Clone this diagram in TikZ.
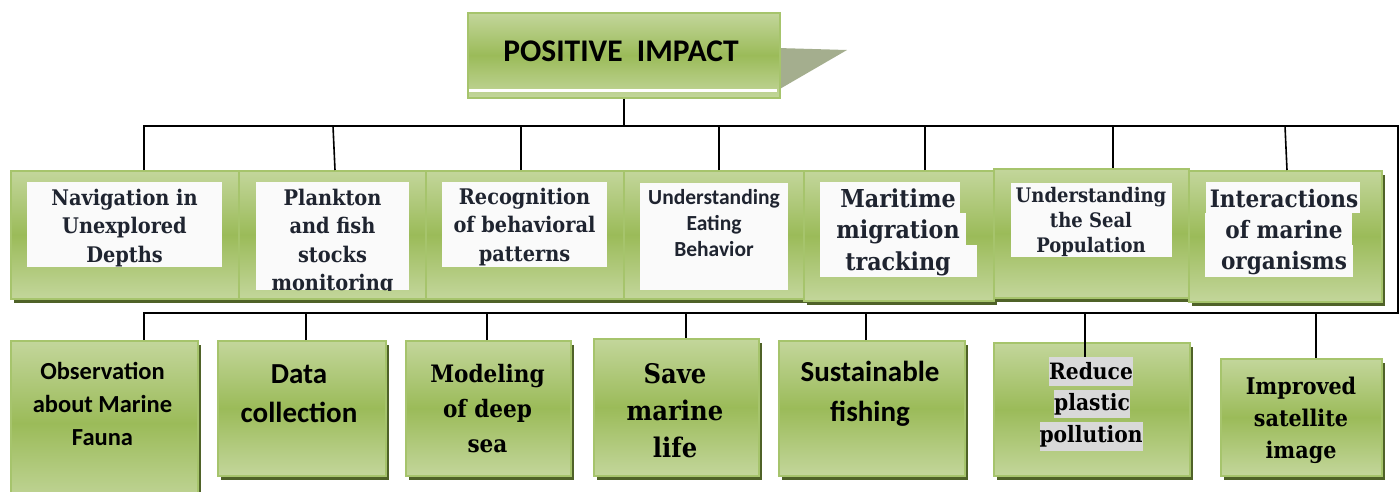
\documentclass[tikz,border=0pt]{standalone}
\usepackage{fontspec}
\setmainfont{Carlito}[BoldFont={Carlito Bold}]
\newfontfamily\cam{DejaVu Serif Condensed}
\usetikzlibrary{shadows}

\definecolor{gLight}{HTML}{C3D69B}
\definecolor{gMid}{HTML}{9BBB59}
\definecolor{gEdge}{HTML}{A6C46C}
\definecolor{gShadow}{HTML}{4F6228}
\definecolor{ink}{HTML}{1F2430}
\definecolor{flag}{HTML}{A4AE8E}
\definecolor{hilite}{HTML}{D9D9D9}
\definecolor{panelc}{HTML}{FAFAFA}

\newcommand\fsz[2]{\fontsize{#1}{#2}\selectfont}

\tikzset{
  plainbox/.style={anchor=north west, inner sep=0pt, draw=gEdge, line width=1.6pt,
    top color=gLight, bottom color=gLight, middle color=gMid},
  greenbox/.style={plainbox,
    drop shadow={shadow xshift=3pt, shadow yshift=-4pt, fill=gShadow, opacity=1}},
  panel/.style={anchor=north west, inner sep=0pt, fill=panelc},
  tx/.style={inner sep=0pt, align=center},
  serifA/.style={tx, text=ink, font=\cam\bfseries\fsz{21.5}{28.5}},
  link/.style={draw=black, line width=1.6pt},
}

\begin{document}
\begin{tikzpicture}[x=1pt,y=-1pt]
\useasboundingbox (0,0) rectangle (1400,491);
\fill[white] (0,0) rectangle (1400,491);

% ---------- title ----------
\fill[flag] (778,48) -- (847,50) -- (778,90) -- cycle;
\node[plainbox, minimum width=312pt, minimum height=85pt] (title) at (467,12) {};
\draw[white, line width=2.5pt] (469,90.5) -- (777,90.5);
\node[tx, font=\bfseries\fsz{31.5}{35}] (titletext) at (621,51) {POSITIVE\ \ IMPACT};

% ---------- middle row ----------
\node[greenbox, minimum width=228pt, minimum height=128pt] (m1) at (10,170) {};
\node[greenbox, minimum width=187pt, minimum height=128pt] (m2) at (238,170) {};
\node[greenbox, minimum width=198pt, minimum height=128pt] (m3) at (425,170) {};
\node[greenbox, minimum width=180pt, minimum height=128pt] (m4) at (623,170) {};
\node[greenbox, minimum width=190pt, minimum height=130pt] (m5) at (803,170) {};
\node[greenbox, minimum width=195pt, minimum height=129pt] (m6) at (993,168) {};
\node[greenbox, minimum width=193pt, minimum height=131pt] (m7) at (1188,170) {};

% white label panels
\node[panel, minimum width=195pt, minimum height=85pt] (w1) at (27,182) {};
\node[panel, minimum width=153pt, minimum height=108pt] (w2) at (256,182) {};
\node[panel, minimum width=165pt, minimum height=85pt] (w3) at (442,182) {};
\node[panel, minimum width=148pt, minimum height=107pt] (w4) at (640,183) {};
\node[panel, minimum width=140pt, minimum height=31pt] (w5a) at (820,182) {};
\node[panel, minimum width=146pt, minimum height=32pt] (w5b) at (820,213) {};
\node[panel, minimum width=157pt, minimum height=32pt] (w5c) at (820,245) {};
\node[panel, minimum width=161pt, minimum height=74pt] (w6) at (1011,183) {};
\node[panel, minimum width=154pt, minimum height=31pt] (w7a) at (1206,182) {};
\node[panel, minimum width=147pt, minimum height=32pt] (w7b) at (1205,213) {};
\node[panel, minimum width=148pt, minimum height=32pt] (w7c) at (1205,245) {};

% labels
\node[serifA] (t1) at (124.5,228) {Navigation in\\Unexplored\\Depths};
\begin{scope}
  \clip (w2.north west) rectangle (w2.south east);
  \node[serifA] (t2) at (332.5,242) {Plankton\\and fish\\stocks\\monitoring};
\end{scope}
\node[serifA] (t3) at (524.5,227) {Recognition\\of behavioral\\patterns};
\node[tx, text=ink, font=\bfseries\fsz{21.5}{26}] (t4) at (714,223) {Understanding\\Eating\\Behavior};
\node[tx, text=ink, font=\cam\bfseries\fsz{24.7}{31.5}] (t5) at (898,232) {Maritime\\migration\\tracking};
\node[tx, text=ink, font=\cam\bfseries\fsz{20}{25}] (t6) at (1091,222) {Understanding\\the Seal\\Population};
\node[tx, text=ink, font=\cam\bfseries\fsz{24}{31}] (t7) at (1284,232) {Interactions\\of marine\\organisms};

% ---------- bottom row ----------
\node[greenbox, minimum width=187pt, minimum height=165pt] (b1) at (10,340) {};
\node[greenbox, minimum width=168pt, minimum height=135pt] (b2) at (217,340) {};
\node[greenbox, minimum width=165pt, minimum height=135pt] (b3) at (405,340) {};
\node[greenbox, minimum width=165pt, minimum height=137pt] (b4) at (593,338) {};
\node[greenbox, minimum width=186pt, minimum height=135pt] (b5) at (778,340) {};
\node[greenbox, minimum width=196pt, minimum height=133pt] (b6) at (993,342) {};
\node[greenbox, minimum width=161pt, minimum height=117pt] (b7) at (1220,358) {};

\node[tx, font=\bfseries\fsz{24.5}{33}] (s1) at (102.5,404) {Observation\\about Marine\\Fauna};
\node[tx, font=\bfseries\fsz{29}{39}] (s2) at (299,394) {Data\\collection};
\node[tx, font=\cam\bfseries\fsz{24}{35}] (s3) at (487.5,409) {Modeling\\of deep\\sea};
\node[tx, font=\cam\bfseries\fsz{27}{37}] (s4) at (675,411) {Save\\marine\\life};
\node[tx, font=\bfseries\fsz{29}{40}] (s5) at (870,394) {Sustainable\\fishing};
\node[tx, fill=hilite, font=\cam\bfseries\fsz{22.5}{25}, minimum width=82pt, minimum height=29pt] (s6a) at (1091,371.5) {Reduce};
\node[tx, fill=hilite, font=\cam\bfseries\fsz{22.5}{25}, minimum width=74pt, minimum height=28pt] (s6b) at (1092,404) {plastic};
\node[tx, fill=hilite, font=\cam\bfseries\fsz{22.5}{25}, minimum width=102pt, minimum height=29pt] (s6c) at (1091,436.5) {pollution};
\node[tx, font=\cam\bfseries\fsz{23}{32}] (s7) at (1301,420) {Improved\\satellite\\image};

% ---------- connectors ----------
\coordinate (busTL) at (144,126);
\coordinate (busTR) at (1398,126);
\coordinate (busBR) at (1398,313);
\coordinate (busBL) at (144,313);

\draw[link] (title.south) -- (title.south |- busTL);
\draw[link] (m1.north -| busTL) -- (busTL) -- (busTR) -- (busBR) -- (busBL) -- (b1.north -| busBL);
\draw[link] (333,126) -- (m2.north -| 335,0);
\draw[link] (m3.north -| 521,0) -- +(0,-44);
\draw[link] (m4.north -| 719,0) -- +(0,-44);
\draw[link] (m5.north -| 925,0) -- +(0,-44);
\draw[link] (m6.north -| 1113,0) -- +(0,-42);
\draw[link] (1285,126) -- (m7.north -| 1287,0);

\draw[link] (b2.north -| 306,0) -- +(0,-27);
\draw[link] (b3.north -| 487,0) -- +(0,-27);
\draw[link] (b4.north -| 686,0) -- +(0,-25);
\draw[link] (b5.north -| 866,0) -- +(0,-27);
\draw[link] (1085,313) -- ([yshift=-15pt]b6.north -| 1085,0);
\draw[link] (b7.north -| 1316,0) -- +(0,-45);
\end{tikzpicture}
\end{document}
